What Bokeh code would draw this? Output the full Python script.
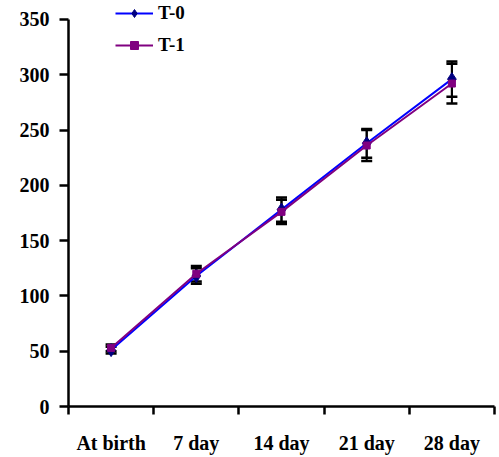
from bokeh.plotting import figure
from bokeh.models import (Range1d, FixedTicker, LinearAxis, ColumnDataSource,
                          Whisker, TeeHead, Legend, LegendItem)
from bokeh.embed import file_html
from bokeh.resources import INLINE

categories = ["At birth", "7 day", "14 day", "21 day", "28 day"]
t0 = [51, 118, 178, 238, 296]
t1 = [53, 120, 176, 236, 292]
t0_err = [3, 7, 11, 13, 16]
t1_err = [3, 7, 11, 14, 18]
y_ticks = [0, 50, 100, 150, 200, 250, 300, 350]

xpos = [i + 0.5 for i in range(len(categories))]
bounds_ticks = list(range(len(categories) + 1))
FONT = "Liberation Serif"

p = figure(width=499, height=457, output_backend="svg", toolbar_location=None,
           x_range=Range1d(0, len(categories)), y_range=Range1d(0, 367.1),
           min_border_left=68, min_border_right=5, min_border_top=0, min_border_bottom=51,
           x_axis_type=None, y_axis_type=None)
p.grid.visible = False
p.outline_line_color = None
p.background_fill_color = "white"

# y axis
yax = LinearAxis(ticker=FixedTicker(ticks=y_ticks), bounds=(0, 350))
yax.axis_line_width = 2.5
yax.major_tick_line_width = 2.5
yax.major_tick_out = 9
yax.major_tick_in = 0
yax.minor_tick_out = 0
yax.major_label_standoff = 10
yax.major_label_text_font = FONT
yax.major_label_text_font_style = "bold"
yax.major_label_text_font_size = "20px"
yax.major_label_text_color = "black"
p.add_layout(yax, "left")

# x axis: labels at category centres, tick marks (minor) at boundaries
xax = LinearAxis(ticker=FixedTicker(ticks=xpos, minor_ticks=bounds_ticks),
                 major_label_overrides={x: c for x, c in zip(xpos, categories)})
xax.axis_line_width = 2.5
xax.major_tick_line_color = None
xax.major_tick_out = 0
xax.major_tick_in = 0
xax.minor_tick_line_width = 2.5
xax.minor_tick_out = 8
xax.minor_tick_in = 0
xax.major_label_standoff = 17
xax.major_label_text_font = FONT
xax.major_label_text_font_style = "bold"
xax.major_label_text_font_size = "20px"
xax.major_label_text_color = "black"
p.add_layout(xax, "below")

src0 = ColumnDataSource(dict(x=xpos, y=t0,
                             lo=[v - e for v, e in zip(t0, t0_err)],
                             hi=[v + e for v, e in zip(t0, t0_err)]))
src1 = ColumnDataSource(dict(x=xpos, y=t1,
                             lo=[v - e for v, e in zip(t1, t1_err)],
                             hi=[v + e for v, e in zip(t1, t1_err)]))

for s in (src0, src1):
    w = Whisker(source=s, base="x", lower="lo", upper="hi",
                line_color="black", line_width=2,
                upper_head=TeeHead(size=11, line_color="black", line_width=2.5),
                lower_head=TeeHead(size=11, line_color="black", line_width=2.5))
    p.add_layout(w)

l0 = p.line("x", "y", source=src0, line_color="#0000FF", line_width=2)
m0 = p.scatter("x", "y", source=src0, marker="diamond", size=13,
               fill_color="#000080", line_color="#000080")
l1 = p.line("x", "y", source=src1, line_color="#800080", line_width=2)
m1 = p.scatter("x", "y", source=src1, marker="square", size=7,
               fill_color="#800080", line_color="#800080")

legend = Legend(items=[LegendItem(label="T-0", renderers=[l0, m0]),
                       LegendItem(label="T-1", renderers=[l1, m1])],
                location=(47, 350))
legend.border_line_color = None
legend.background_fill_alpha = 0
legend.padding = 0
legend.margin = 0
legend.spacing = 10
legend.glyph_width = 38
legend.glyph_height = 20
legend.label_height = 20
legend.label_standoff = 5
legend.label_text_font = FONT
legend.label_text_font_style = "bold"
legend.label_text_font_size = "19px"
legend.label_text_color = "black"
p.add_layout(legend, "center")

open("out.html", "w").write(file_html(p, INLINE))
